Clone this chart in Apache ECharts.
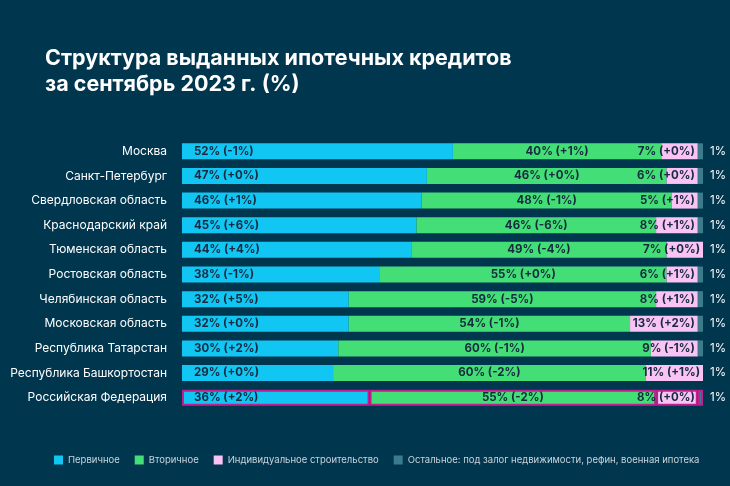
<!DOCTYPE html>
<html>
<head>
<meta charset="utf-8">
<script src="https://cdn.jsdelivr.net/npm/echarts@6/dist/echarts.min.js"></script>
<style>
  html, body { margin: 0; padding: 0; background: #01364f; }
  #chart { width: 730px; height: 486px; }
</style>
</head>
<body>
<div id="chart"></div>
<script>
const regions = ['Москва', 'Санкт-Петербург', 'Свердловская область', 'Краснодарский край',
  'Тюменская область', 'Ростовская область', 'Челябинская область', 'Московская область',
  'Республика Татарстан', 'Республика Башкортостан', 'Российская Федерация']

const primary = [52, 47, 46, 45, 44, 38, 32, 32, 30, 29, 36]
const primaryDelta = ['-1%', '+0%', '+1%', '+6%', '+4%', '-1%', '+5%', '+0%', '+2%', '+0%', '+2%']
const secondary = [40, 46, 48, 46, 49, 55, 59, 54, 60, 60, 55]
const secondaryDelta = ['+1%', '+0%', '-1%', '-6%', '-4%', '+0%', '-5%', '-1%', '-1%', '-2%', '-2%']
const individual = [7, 6, 5, 8, 7, 6, 8, 13, 9, 11, 8]
const individualDelta = ['+0%', '+0%', '+1%', '+1%', '+0%', '+1%', '+1%', '+2%', '-1%', '+1%', '+0%']
const other = [1, 1, 1, 1, 1, 1, 1, 1, 1, 1, 1]

const seriesNames = ['Первичное', 'Вторичное', 'Индивидуальное строительство',
  'Остальное: под залог недвижимости, рефин, военная ипотека']
const colors = ['#12c6f4', '#44de77', '#f9c3f3', '#3b7b8c']

const chartDom = document.getElementById('chart')
const myChart = echarts.init(chartDom)

const highlight = 'Российская Федерация'

// RF row gets a magenta outline on every segment
const withBorder = (arr) => arr.map((v, i) => regions[i] === highlight
  ? { value: v, itemStyle: { borderColor: '#c0208f', borderWidth: 2 } }
  : v)

const innerLabel = {
  show: true,
  color: '#172a40',
  fontFamily: 'Inter',
  fontWeight: 'bold',
  fontSize: 11.5
}

const options = {
  backgroundColor: '#01364f',
  animation: false,
  title: {
    text: 'Структура выданных ипотечных кредитов\nза сентябрь 2023 г. (%)',
    left: 40,
    top: 41,
    textStyle: {
      color: '#ffffff',
      fontFamily: 'Inter',
      fontWeight: 'bold',
      fontSize: 21.5,
      lineHeight: 26
    }
  },
  legend: {
    left: 49,
    top: 450,
    icon: 'rect',
    itemWidth: 9,
    itemHeight: 9,
    itemGap: 15,
    textStyle: { color: '#c9d4db', fontSize: 9.5, fontFamily: 'Inter' },
    data: seriesNames
  },
  grid: {
    left: 182,
    right: 27,
    top: 139,
    height: 271
  },
  xAxis: {
    type: 'value',
    min: 0,
    max: 100,
    show: false
  },
  yAxis: {
    type: 'category',
    inverse: true,
    data: regions,
    axisLine: { show: false },
    axisTick: { show: false },
    axisLabel: {
      color: '#ffffff',
      fontSize: 12,
      fontFamily: 'Inter',
      margin: 15
    }
  },
  series: [
    {
      name: seriesNames[0],
      type: 'bar',
      stack: 'total',
      barWidth: 16,
      color: colors[0],
      data: withBorder(primary),
      label: {
        ...innerLabel,
        position: 'insideLeft',
        distance: 12,
        formatter: (p) => `${primary[p.dataIndex]}% (${primaryDelta[p.dataIndex]})`
      }
    },
    {
      name: seriesNames[1],
      type: 'bar',
      stack: 'total',
      color: colors[1],
      data: withBorder(secondary),
      label: {
        ...innerLabel,
        position: 'inside',
        formatter: (p) => `${secondary[p.dataIndex]}% (${secondaryDelta[p.dataIndex]})`
      }
    },
    {
      name: seriesNames[2],
      type: 'bar',
      stack: 'total',
      color: colors[2],
      data: withBorder(individual),
      label: {
        ...innerLabel,
        position: 'insideRight',
        distance: 3,
        formatter: (p) => `${individual[p.dataIndex]}% (${individualDelta[p.dataIndex]})`
      }
    },
    {
      name: seriesNames[3],
      type: 'bar',
      stack: 'total',
      color: colors[3],
      data: withBorder(other),
      label: {
        show: true,
        position: 'right',
        distance: 7,
        color: '#ffffff',
        fontSize: 11.5,
        fontFamily: 'Inter',
        formatter: (p) => `${other[p.dataIndex]}%`
      }
    }
  ]
}

myChart.setOption(options)
</script>
</body>
</html>
